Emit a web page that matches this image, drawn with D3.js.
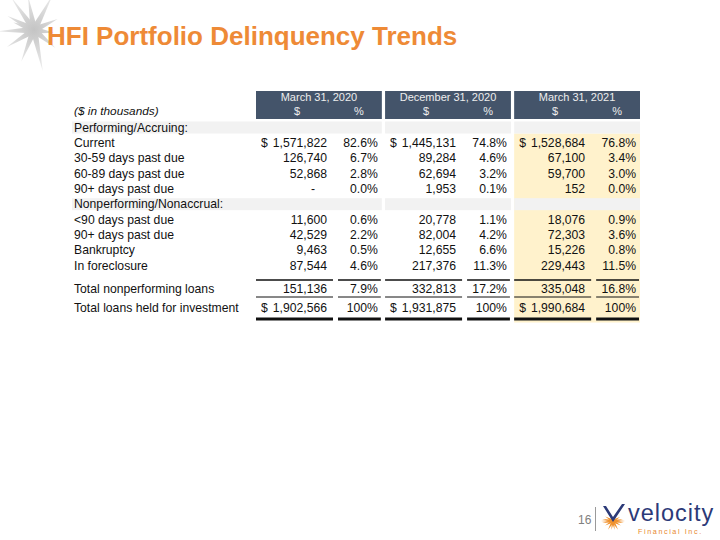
<!DOCTYPE html>
<html><head><meta charset="utf-8">
<script src="https://cdn.jsdelivr.net/npm/d3@7"></script>
<style>html,body{margin:0;padding:0;background:#fff;} svg{display:block;font-family:"Liberation Sans",Arial,sans-serif;}</style>
</head><body><svg id="c" width="720" height="540"></svg>
<script>
// ---------- data ----------
const title = "HFI Portfolio Delinquency Trends";
const unitsLabel = "($ in thousands)";
const periods = ["March 31, 2020", "December 31, 2020", "March 31, 2021"];
const subHeaders = ["$", "%"];
const sectionLabels = ["Performing/Accruing:", "Nonperforming/Nonaccrual:"];
const performingLabels = ["Current", "30-59 days past due", "60-89 days past due", "90+ days past due"];
const nonperformingLabels = ["<90 days past due", "90+ days past due", "Bankruptcy", "In foreclosure"];
const amountsMar2020 = [1571822, 126740, 52868, 0, 11600, 42529, 9463, 87544];
const pctMar2020     = [82.6, 6.7, 2.8, 0.0, 0.6, 2.2, 0.5, 4.6];
const amountsDec2020 = [1445131, 89284, 62694, 1953, 20778, 82004, 12655, 217376];
const pctDec2020     = [74.8, 4.6, 3.2, 0.1, 1.1, 4.2, 6.6, 11.3];
const amountsMar2021 = [1528684, 67100, 59700, 152, 18076, 72303, 15226, 229443];
const pctMar2021     = [76.8, 3.4, 3.0, 0.0, 0.9, 3.6, 0.8, 11.5];
const totalLabels = ["Total nonperforming loans", "Total loans held for investment"];
const totalNonperformingAmt = [151136, 332813, 335048];
const totalNonperformingPct = [7.9, 17.2, 16.8];
const totalLoansAmt = [1902566, 1931875, 1990684];
const totalLoansPct = [100, 100, 100];
const pageNumber = "16";

// ---------- build table model ----------
const amounts = [amountsMar2020, amountsDec2020, amountsMar2021];
const pcts = [pctMar2020, pctDec2020, pctMar2021];
const rows = [];
rows.push({type: "section", label: sectionLabels[0]});
performingLabels.forEach((l, i) => rows.push({type: "row", label: l, idx: i, dollar: i === 0}));
rows.push({type: "section", label: sectionLabels[1]});
nonperformingLabels.forEach((l, i) => rows.push({type: "row", label: l, idx: i + 4, dollar: false}));

const svg = d3.select("#c");
const fmtAmt = v => v === 0 ? "-" : d3.format(",")(v);
const fmtPct = v => v === 100 ? "100%" : d3.format(".1f")(v) + "%";

// ---------- scales ----------
const x = d3.scaleBand().domain(periods).range([256, 640]).paddingInner(0.025);
const bw = x.bandwidth();
const y = d3.scaleLinear().domain([0, 9]).range([127.5, 265.5]);
const yTotNP = 288.5, yTotAll = 308;
const labelX = 74;

// ---------- decoration star (top-left) ----------
const deco = svg.append("g").attr("transform", "translate(34,30)");
const grad = svg.append("defs").append("radialGradient").attr("id", "sg")
  .attr("gradientUnits", "userSpaceOnUse").attr("cx", 0).attr("cy", 0).attr("r", 45);
grad.append("stop").attr("offset", "0%").attr("stop-color", "#c4c4c4");
grad.append("stop").attr("offset", "100%").attr("stop-color", "#f2f2f2");
const rays = [[-125, 40], [-100, 34], [-62, 40], [-25, 26], [8, 20], [40, 28], [78, 42], [112, 34], [148, 32], [178, 36], [200, 22], [-152, 30]];
rays.forEach(([a, len]) => {
  const r = a * Math.PI / 180, w = 3.6;
  const px = Math.cos(r + Math.PI / 2) * w, py = Math.sin(r + Math.PI / 2) * w;
  deco.append("path")
    .attr("d", `M${px},${py} L${Math.cos(r) * len},${Math.sin(r) * len} L${-px},${-py} Z`)
    .attr("fill", "url(#sg)");
});

// ---------- title ----------
svg.append("text").attr("x", 47).attr("y", 45).text(title)
  .attr("font-size", 26).attr("font-weight", "bold").attr("fill", "#EE8A36");

// ---------- backgrounds ----------
svg.append("rect").attr("x", x(periods[2])).attr("y", 133.5).attr("width", bw).attr("height", 189)
  .attr("fill", "#FFF2CC");
rows.forEach((r, i) => {
  if (r.type !== "section") return;
  svg.append("rect").attr("x", 72).attr("y", y(i) - 6).attr("width", x(periods[0]) + bw - 72).attr("height", 12).attr("fill", "#F2F2F2");
  periods.slice(1).forEach(p => {
    svg.append("rect").attr("x", x(p)).attr("y", y(i) - 6).attr("width", bw).attr("height", 12).attr("fill", "#F2F2F2");
  });
});

// header boxes
const hdr = svg.append("g").selectAll("g").data(periods).join("g");
hdr.append("rect").attr("x", d => x(d)).attr("y", 91).attr("width", bw).attr("height", 28).attr("fill", "#44546A");
hdr.append("text").attr("x", d => x(d) + bw / 2).attr("y", 101).attr("text-anchor", "middle")
  .attr("font-size", 11).attr("fill", "#EDEDED").text(d => d);
hdr.append("text").attr("x", d => x(d) + 41).attr("y", 115).attr("text-anchor", "middle")
  .attr("font-size", 11).attr("fill", "#EDEDED").text(subHeaders[0]);
hdr.append("text").attr("x", d => x(d) + 103).attr("y", 115).attr("text-anchor", "middle")
  .attr("font-size", 11).attr("fill", "#EDEDED").text(subHeaders[1]);

svg.append("text").attr("x", labelX).attr("y", 115).attr("font-size", 11.8).attr("font-style", "italic")
  .attr("fill", "#111").text(unitsLabel);

// ---------- body rows ----------
const fs = 12.2;
const body = svg.append("g").attr("font-size", fs).attr("fill", "#111");
rows.forEach((r, i) => {
  const yy = y(i);
  body.append("text").attr("x", labelX).attr("y", yy).attr("dy", "0.35em").text(r.label);
  if (r.type !== "row") return;
  periods.forEach((p, k) => {
    const x0 = x(p);
    if (r.dollar) body.append("text").attr("x", x0 + 5).attr("y", yy).attr("dy", "0.35em").text("$");
    body.append("text").attr("x", x0 + 71).attr("y", yy).attr("dy", "0.35em").attr("text-anchor", "end")
      .attr("dx", amounts[k][r.idx] === 0 ? -12 : 0).text(fmtAmt(amounts[k][r.idx]));
    body.append("text").attr("x", x0 + bw - 4).attr("y", yy).attr("dy", "0.35em").attr("text-anchor", "end")
      .text(fmtPct(pcts[k][r.idx]));
  });
});

// totals
[[totalLabels[0], totalNonperformingAmt, totalNonperformingPct, yTotNP, false],
 [totalLabels[1], totalLoansAmt, totalLoansPct, yTotAll, true]].forEach(([lab, am, pc, yy, dollar]) => {
  body.append("text").attr("x", labelX).attr("y", yy).attr("dy", "0.35em").text(lab);
  periods.forEach((p, k) => {
    const x0 = x(p);
    if (dollar) body.append("text").attr("x", x0 + 5).attr("y", yy).attr("dy", "0.35em").text("$");
    body.append("text").attr("x", x0 + 71).attr("y", yy).attr("dy", "0.35em").attr("text-anchor", "end").text(fmtAmt(am[k]));
    body.append("text").attr("x", x0 + bw - 4).attr("y", yy).attr("dy", "0.35em").attr("text-anchor", "end").text(fmtPct(pc[k]));
  });
});

// rules
const rules = svg.append("g");
periods.forEach(p => {
  const x0 = x(p);
  const segs = [[x0, x0 + 77], [x0 + 82, x0 + bw - 1]];
  segs.forEach(([a, b]) => {
    rules.append("line").attr("x1", a).attr("x2", b).attr("y1", 280).attr("y2", 280).attr("stroke", "#111").attr("stroke-width", 1.5);
    rules.append("line").attr("x1", a).attr("x2", b).attr("y1", 297).attr("y2", 297).attr("stroke", "#111").attr("stroke-width", 1);
    rules.append("line").attr("x1", a).attr("x2", b).attr("y1", 319).attr("y2", 319).attr("stroke", "#111").attr("stroke-width", 3);
  });
});

// ---------- footer ----------
svg.append("text").attr("x", 578).attr("y", 524).attr("font-size", 12).attr("fill", "#808080").text(pageNumber);
svg.append("line").attr("x1", 595.5).attr("x2", 595.5).attr("y1", 507).attr("y2", 531).attr("stroke", "#9a9a9a").attr("stroke-width", 1);
const logo = svg.append("g").attr("transform", "translate(613,521)");
const orangeRays = [[-170, 11], [-150, 9], [150, 9], [170, 11], [120, 10], [100, 9], [80, 9], [60, 10], [30, 9], [10, 11], [-10, 10], [-30, 8], [180, 12], [0, 12]];
orangeRays.forEach(([a, len]) => {
  const r = a * Math.PI / 180, w = 1.3;
  const px = Math.cos(r + Math.PI / 2) * w, py = Math.sin(r + Math.PI / 2) * w;
  logo.append("path").attr("d", `M${px},${py} L${Math.cos(r) * len},${Math.sin(r) * len} L${-px},${-py} Z`).attr("fill", "#F0922E");
});
logo.append("path").attr("d", "M-10,-15 L-7,-15 L0,-4 L9,-17 L12,-17 L0,1 Z").attr("fill", "#2C3A78");
svg.append("text").attr("x", 628).attr("y", 521).attr("font-size", 23.5).attr("letter-spacing", 1).attr("fill", "#2C3A78").text("velocity");
svg.append("text").attr("x", 638).attr("y", 534).attr("font-size", 7.2).attr("letter-spacing", 1.6).attr("fill", "#E8892F").text("Financial Inc.");
</script></body></html>
